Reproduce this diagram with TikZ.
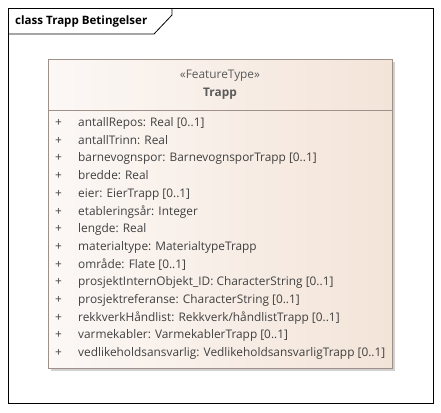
\documentclass[tikz,border=0pt]{standalone}
\usepackage{fontspec}
\setmainfont{Open Sans}
\usetikzlibrary{shadings}
\definecolor{boxborder}{HTML}{A0908A}
\definecolor{boxleft}{HTML}{FCF8F6}
\definecolor{boxright}{HTML}{F3E4D8}
\definecolor{txt}{HTML}{404040}
\definecolor{stereo}{HTML}{5A5A5A}
\tikzset{
  attr/.style={anchor=west, inner sep=0pt, text height=9bp, text depth=3bp, font=\fontsize{11.9}{13}\selectfont, text=txt},
  plus/.style={anchor=west, inner sep=0pt, text height=9bp, text depth=3bp, font=\fontsize{11.9}{13}\selectfont, text=txt},
}
\begin{document}
\begin{tikzpicture}[x=1bp,y=-1bp]
\useasboundingbox[fill=white] (0,0) rectangle (441,412);
% frame
\draw[black, line width=0.8bp] (8,8) rectangle (433,403);
\draw[black, line width=0.8bp] (8,34) -- (154,34) -- (172,15) -- (172,8);
\node[anchor=west, inner sep=0pt, text height=9bp, text depth=3bp, font=\fontsize{11.6}{13}\selectfont\bfseries] (title) at (15,21.5) {class Trapp Betingelser};
% shadow
\fill[black!18] (51,62) rectangle (395,371);
% class box
\shade[left color=boxleft, right color=boxright] (48,59) rectangle (392,368);
\draw[boxborder, line width=0.8bp] (48,59) rectangle (392,368);
\draw[boxborder, line width=0.8bp] (48,110) -- (392,110);
\node[inner sep=0pt, text height=9bp, text depth=3bp, font=\fontsize{11.9}{13}\selectfont, text=stereo] (st) at (220,75.5) {«FeatureType»};
\node[inner sep=0pt, text height=9bp, text depth=3bp, font=\fontsize{11.9}{13}\selectfont\bfseries, text=stereo] (nm) at (220,93) {Trapp};
\foreach \t [count=\i from 0] in {
  {antallRepos: Real [0..1]},
  {antallTrinn: Real},
  {barnevognspor: BarnevognsporTrapp [0..1]},
  {bredde: Real},
  {eier: EierTrapp [0..1]},
  {etableringsår: Integer},
  {lengde: Real},
  {materialtype: MaterialtypeTrapp},
  {område: Flate [0..1]},
  {prosjektInternObjekt\_ID: CharacterString [0..1]},
  {prosjektreferanse: CharacterString [0..1]},
  {rekkverkHåndlist: Rekkverk/håndlistTrapp [0..1]},
  {varmekabler: VarmekablerTrapp [0..1]},
  {vedlikeholdsansvarlig: VedlikeholdsansvarligTrapp [0..1]}} {
  \node[plus] (p\i) at (55,{123.5+17.7*\i}) {+};
  \node[attr] (a\i) at (78,{123.5+17.7*\i}) {\t};
}
\end{tikzpicture}
\end{document}
